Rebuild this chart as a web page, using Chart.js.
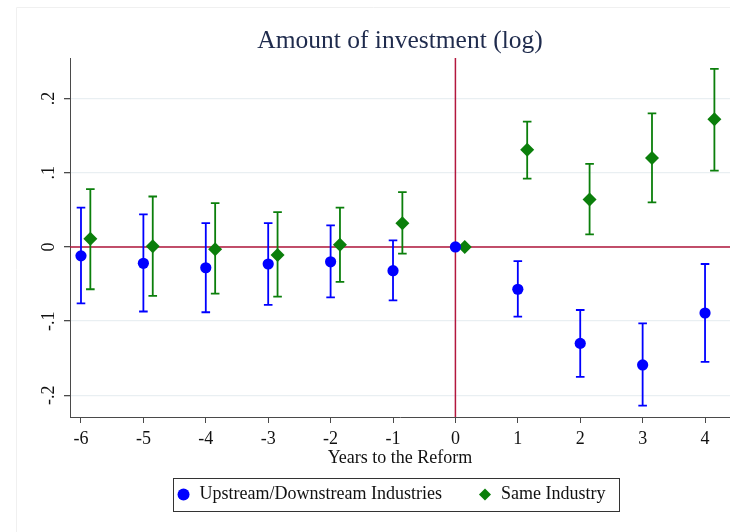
<!DOCTYPE html>
<html>
<head>
<meta charset="utf-8">
<script src="https://cdn.jsdelivr.net/npm/chart.js@4/dist/chart.umd.min.js"></script>
<style>
  html, body { margin: 0; padding: 0; background: #ffffff; }
  #wrap { width: 730px; height: 532px; }
</style>
</head>
<body>
<div id="wrap"><canvas id="chart" width="730" height="532"></canvas></div>
<script>
// Event-study estimates: years relative to the reform
const years = [-6, -5, -4, -3, -2, -1, 0, 1, 2, 3, 4];

// Upstream/Downstream industries: point estimate and 95% CI bounds
const upCoef = [-0.012, -0.022, -0.028, -0.023, -0.020, -0.032, 0, -0.057, -0.130, -0.159, -0.089];
const upLow  = [-0.076, -0.087, -0.088, -0.078, -0.068, -0.072, null, -0.094, -0.175, -0.214, -0.155];
const upHigh = [ 0.053,  0.044,  0.032,  0.032,  0.029,  0.009, null, -0.019, -0.085, -0.103, -0.023];

// Same industry: point estimate and 95% CI bounds
const sameCoef = [ 0.011,  0.001, -0.003, -0.011,  0.003,  0.032, 0,  0.131,  0.064,  0.120,  0.172];
const sameLow  = [-0.057, -0.066, -0.063, -0.067, -0.047, -0.009, null, 0.092, 0.017, 0.060, 0.103];
const sameHigh = [ 0.078,  0.068,  0.059,  0.047,  0.053,  0.074, null, 0.169, 0.112, 0.180, 0.240];

// Axis ticks
const xTickValues = [-6, -5, -4, -3, -2, -1, 0, 1, 2, 3, 4];
const xTickLabels = ['-6', '-5', '-4', '-3', '-2', '-1', '0', '1', '2', '3', '4'];
const yTickValues = [-0.2, -0.1, 0, 0.1, 0.2];
const yTickLabels = ['-.2', '-.1', '0', '.1', '.2'];

const seriesNames = ['Upstream/Downstream Industries', 'Same Industry'];

const SERIF = '"Liberation Serif", "Times New Roman", Times, serif';
const BLUE = '#0000ff';
const GREEN = '#0b7f0b';
const RED = '#b3173d';
const AXIS = '#4a4a4a';

// the second series sits slightly to the right of each year
const SAME_SHIFT = 0.15;

function toPoints(xs, coef, lo, hi, shift) {
  return xs.map((x, i) => ({ x: x + shift, y: coef[i], lo: lo[i], hi: hi[i] }));
}

// light frame around the whole graph region
const frame = {
  id: 'frame',
  beforeDraw(chart) {
    const { ctx, width, height } = chart;
    ctx.save();
    ctx.strokeStyle = '#f0f0f0';
    ctx.lineWidth = 1;
    ctx.beginPath();
    ctx.moveTo(16.5, height);
    ctx.lineTo(16.5, 7.5);
    ctx.lineTo(width, 7.5);
    ctx.stroke();
    ctx.restore();
  }
};

// zero reference lines and confidence-interval whiskers
const whiskers = {
  id: 'whiskers',
  beforeDatasetsDraw(chart) {
    const { ctx, chartArea, scales: { x, y } } = chart;
    ctx.save();
    ctx.strokeStyle = RED;
    ctx.lineWidth = 1.5;
    ctx.beginPath();
    const y0 = y.getPixelForValue(0);
    ctx.moveTo(chartArea.left, y0);
    ctx.lineTo(chartArea.right, y0);
    const x0 = x.getPixelForValue(0);
    ctx.moveTo(x0, chartArea.top);
    ctx.lineTo(x0, chartArea.bottom);
    ctx.stroke();

    const cap = 4.3;
    chart.data.datasets.forEach((ds, i) => {
      if (!chart.isDatasetVisible(i)) return;
      ctx.strokeStyle = ds.borderColor;
      ctx.lineWidth = 1.8;
      ds.data.forEach(p => {
        if (p.lo == null || p.hi == null) return;
        const px = x.getPixelForValue(p.x);
        const yl = y.getPixelForValue(p.lo);
        const yh = y.getPixelForValue(p.hi);
        ctx.beginPath();
        ctx.moveTo(px, yl); ctx.lineTo(px, yh);
        ctx.moveTo(px - cap, yl); ctx.lineTo(px + cap, yl);
        ctx.moveTo(px - cap, yh); ctx.lineTo(px + cap, yh);
        ctx.stroke();
      });
    });
    ctx.restore();
  }
};

// legend sits a little left of the plot centre, inside an outlined box
const legendFrame = {
  id: 'legendFrame',
  afterLayout(chart) {
    const lg = chart.legend;
    if (!lg) return;
    lg.left -= 9;
    lg.right -= 9;
  },
  afterDraw(chart) {
    const lg = chart.legend;
    if (!lg || !lg.legendHitBoxes || !lg.legendHitBoxes.length) return;
    const hb = lg.legendHitBoxes;
    const first = hb[0], last = hb[hb.length - 1];
    const cy = first.top + first.height / 2;
    const left = Math.round(first.left - 4) + 0.5;
    const right = Math.round(last.left + last.width + 14) + 0.5;
    const top = Math.round(cy - 16.5) + 0.5;
    const bottom = Math.round(cy + 16.5) + 0.5;
    const { ctx } = chart;
    ctx.save();
    ctx.strokeStyle = '#333333';
    ctx.lineWidth = 1;
    ctx.strokeRect(left, top, right - left, bottom - top);
    ctx.restore();
  }
};

new Chart(document.getElementById('chart'), {
  type: 'scatter',
  data: {
    datasets: [
      {
        label: seriesNames[0],
        data: toPoints(years, upCoef, upLow, upHigh, 0),
        backgroundColor: BLUE,
        borderColor: BLUE,
        borderWidth: 0,
        pointStyle: 'circle',
        pointRadius: 5.6,
        pointHoverRadius: 5.6
      },
      {
        label: seriesNames[1],
        data: toPoints(years, sameCoef, sameLow, sameHigh, SAME_SHIFT),
        backgroundColor: GREEN,
        borderColor: GREEN,
        borderWidth: 0,
        pointStyle: 'rectRot',
        pointRadius: 7,
        pointHoverRadius: 7
      }
    ]
  },
  options: {
    responsive: false,
    devicePixelRatio: 1,
    animation: false,
    layout: { autoPadding: false, padding: { left: 0, right: 0, top: 0, bottom: 18.5 } },
    plugins: {
      title: {
        display: true,
        text: 'Amount of investment (log)',
        fullSize: false,
        color: '#1f2b4d',
        font: { family: SERIF, size: 25.5, weight: 'normal', lineHeight: 1.2 },
        padding: { top: 26.3, bottom: 1.1 }
      },
      legend: {
        display: true,
        position: 'bottom',
        fullSize: false,
        labels: {
          usePointStyle: true,
          boxWidth: 14,
          boxHeight: 8.5,
          padding: 36,
          color: '#111111',
          font: { family: SERIF, size: 18 }
        }
      },
      tooltip: { enabled: false }
    },
    scales: {
      x: {
        type: 'linear',
        min: -6.176,
        max: 4.40,
        afterBuildTicks(scale) { scale.ticks = xTickValues.map(v => ({ value: v })); },
        afterFit(scale) {
          scale.height = 32.5;
          scale.paddingLeft = 0;
          scale.paddingRight = 0;
        },
        ticks: {
          padding: 5,
          color: '#111111',
          font: { family: SERIF, size: 18 },
          maxRotation: 0,
          minRotation: 0,
          callback: (v, i) => xTickLabels[i]
        },
        grid: { drawOnChartArea: false, drawTicks: true, tickLength: 6, tickColor: AXIS, lineWidth: 1 },
        border: { display: true, color: AXIS, width: 1 },
        title: {
          display: true,
          text: 'Years to the Reform',
          color: '#111111',
          font: { family: SERIF, size: 18, lineHeight: 1.2 },
          padding: { top: 0, bottom: -19.8 }
        }
      },
      y: {
        type: 'linear',
        min: -0.2292,
        max: 0.2547,
        afterBuildTicks(scale) { scale.ticks = yTickValues.map(v => ({ value: v })); },
        afterFit(scale) {
          scale.width = 70;
          scale.paddingTop = 0;
          scale.paddingBottom = 0;
        },
        ticks: {
          padding: 5,
          color: '#111111',
          font: { family: SERIF, size: 18 },
          minRotation: 90,
          maxRotation: 90,
          crossAlign: 'center',
          callback: (v, i) => yTickLabels[i]
        },
        grid: {
          drawOnChartArea: true,
          drawTicks: true,
          tickLength: 6,
          lineWidth: 1.3,
          color: '#e9eff2',
          tickColor: AXIS
        },
        border: { display: true, color: AXIS, width: 1 }
      }
    }
  },
  plugins: [frame, whiskers, legendFrame]
});
</script>
</body>
</html>
